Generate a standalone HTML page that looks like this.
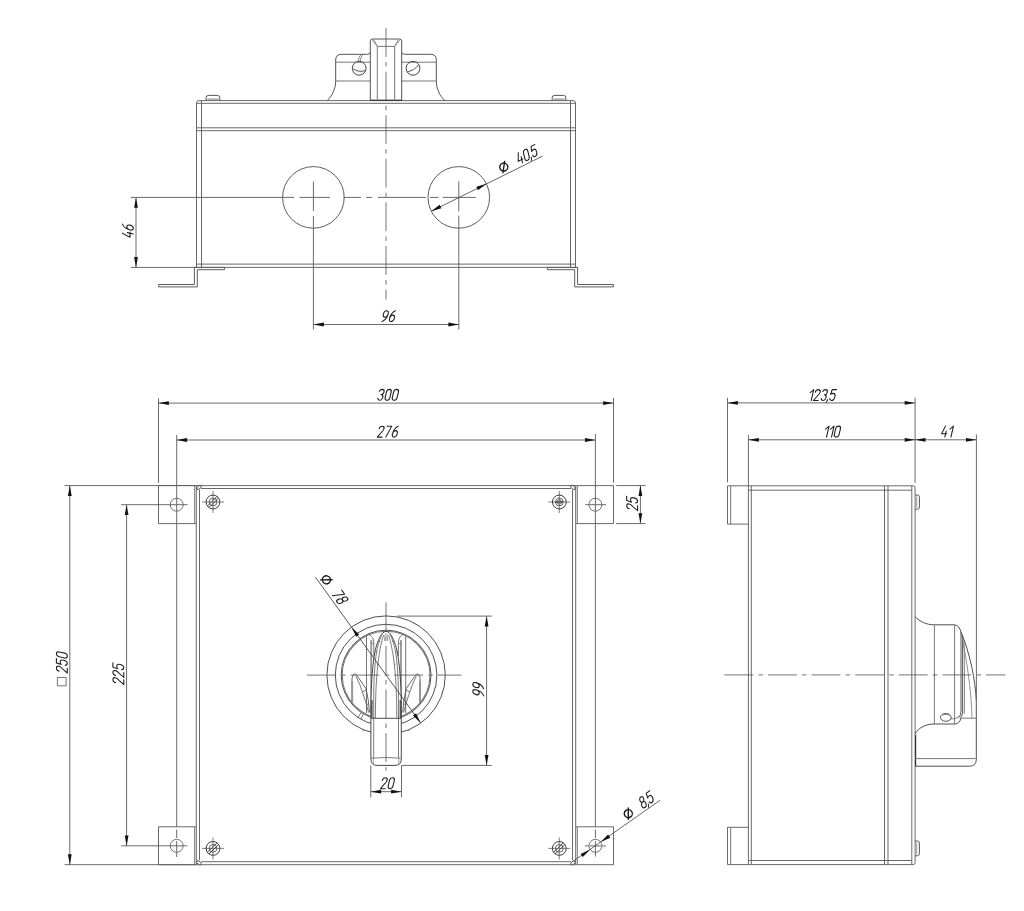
<!DOCTYPE html>
<html><head><meta charset="utf-8"><title>Drawing</title>
<style>html,body{margin:0;padding:0;background:#fff;font-family:"Liberation Sans",sans-serif;}svg{display:block}</style>
</head><body>
<svg width="1024" height="911" viewBox="0 0 1024 911">
<rect width="1024" height="911" fill="#ffffff"/>
<path d="M196.5,127.8 V102.8 Q196.5,100.6 198.9,100.6 H573.1 Q575.5,100.6 575.5,102.8 V127.8" fill="none" stroke="#5c5c5c" stroke-width="0.92" />
<line x1="196.5" y1="103.3" x2="575.5" y2="103.3" stroke="#5c5c5c" stroke-width="0.92"/>
<line x1="196.5" y1="127.8" x2="575.5" y2="127.8" stroke="#5c5c5c" stroke-width="0.92"/>
<line x1="196.5" y1="130.7" x2="575.5" y2="130.7" stroke="#5c5c5c" stroke-width="0.92"/>
<line x1="196.5" y1="127.8" x2="196.5" y2="267.4" stroke="#5c5c5c" stroke-width="0.92"/>
<line x1="575.5" y1="127.8" x2="575.5" y2="267.4" stroke="#5c5c5c" stroke-width="0.92"/>
<line x1="201.5" y1="100.6" x2="201.5" y2="267.4" stroke="#5c5c5c" stroke-width="0.92"/>
<line x1="570.5" y1="100.6" x2="570.5" y2="267.4" stroke="#5c5c5c" stroke-width="0.92"/>
<line x1="196.5" y1="264.1" x2="575.5" y2="264.1" stroke="#5c5c5c" stroke-width="0.92"/>
<line x1="194.5" y1="267.4" x2="577.5" y2="267.4" stroke="#5c5c5c" stroke-width="0.92"/>
<path d="M206.1,100.6 V97.6 Q206.1,95.39999999999999 208.7,95.39999999999999 H217.2 Q219.79999999999998,95.39999999999999 219.79999999999998,97.6 V100.6" fill="none" stroke="#4c4c4c" stroke-width="0.95" />
<line x1="207.29999999999998" y1="99.19999999999999" x2="218.6" y2="99.19999999999999" stroke="#aaa" stroke-width="1.6"/>
<path d="M552.2,100.6 V97.6 Q552.2,95.39999999999999 554.8000000000001,95.39999999999999 H563.3000000000001 Q565.9000000000001,95.39999999999999 565.9000000000001,97.6 V100.6" fill="none" stroke="#4c4c4c" stroke-width="0.95" />
<line x1="553.4000000000001" y1="99.19999999999999" x2="564.7" y2="99.19999999999999" stroke="#aaa" stroke-width="1.6"/>
<path d="M224.6,267.4 H194.4 V284.5 H158.6 V286.9 H197.3 V269.7 H224.6 Z" fill="none" stroke="#5c5c5c" stroke-width="1.0" />
<path d="M547.4,267.4 H577.6 V284.5 H613.4 V286.9 H574.7 V269.7 H547.4 Z" fill="none" stroke="#5c5c5c" stroke-width="1.0" />
<path d="M327.2,100.6 C332,96 335.7,89 335.7,81 V60 Q335.7,54.3 341.4,54.3 H367.5 Q369.6,54.3 370.3,52.3" fill="none" stroke="#4c4c4c" stroke-width="0.95" />
<path d="M444.8,100.6 C440,96 436.3,89 436.3,81 V60 Q436.3,54.3 430.6,54.3 H404.5 Q402.4,54.3 401.7,52.3" fill="none" stroke="#4c4c4c" stroke-width="0.95" />
<line x1="335.7" y1="62.2" x2="370.3" y2="62.2" stroke="#777" stroke-width="1.0"/>
<line x1="401.7" y1="62.2" x2="436.3" y2="62.2" stroke="#777" stroke-width="1.0"/>
<line x1="335.7" y1="81.0" x2="370.3" y2="81.0" stroke="#777" stroke-width="1.0"/>
<line x1="401.7" y1="81.0" x2="436.3" y2="81.0" stroke="#777" stroke-width="1.0"/>
<path d="M370.3,100.6 V41.2 Q370.3,39 372.5,39 H399.5 Q401.7,39 401.7,41.2 V100.6" fill="none" stroke="#4c4c4c" stroke-width="0.95" />
<line x1="370.3" y1="100.3" x2="401.7" y2="100.3" stroke="#333" stroke-width="1.3"/>
<path d="M372.2,39.6 L377.3,46.4 H394.7 L399.8,39.6" fill="none" stroke="#666" stroke-width="0.9" />
<path d="M373.8,39.3 L377.3,46.4 M398.2,39.3 L394.7,46.4" fill="none" stroke="#888" stroke-width="0.8" />
<line x1="377.3" y1="46.4" x2="377.3" y2="100.6" stroke="#777" stroke-width="1.0"/>
<line x1="394.7" y1="46.4" x2="394.7" y2="100.6" stroke="#777" stroke-width="1.0"/>
<circle cx="359.2" cy="68.3" r="6.9" fill="none" stroke="#444" stroke-width="1.0"/>
<circle cx="413.0" cy="68.3" r="6.9" fill="none" stroke="#444" stroke-width="1.0"/>
<path d="M353.3,68.8 Q358,72.6 365.6,70.6" fill="none" stroke="#444" stroke-width="0.9" />
<path d="M407.2,72.2 Q414,70.6 418.8,65.2" fill="none" stroke="#444" stroke-width="0.9" />
<path d="M358.3,61.5 Q358.6,56.8 360.9,54.5 M360.2,61.4 Q360.6,57 362.9,54.5" fill="none" stroke="#666" stroke-width="0.8" />
<circle cx="313.4" cy="197.4" r="30.8" fill="none" stroke="#555" stroke-width="0.95"/>
<circle cx="458.8" cy="197.4" r="30.8" fill="none" stroke="#555" stroke-width="0.95"/>
<line x1="386.0" y1="28" x2="386.0" y2="299.5" stroke="#5a5a5a" stroke-width="0.85" stroke-dasharray="28.8 5.2 4.6 5"/>
<line x1="130.8" y1="197.4" x2="294.0" y2="197.4" stroke="#5e5e5e" stroke-width="0.92"/>
<line x1="299.5" y1="197.4" x2="330" y2="197.4" stroke="#5e5e5e" stroke-width="0.92"/>
<line x1="343.5" y1="197.4" x2="361" y2="197.4" stroke="#5e5e5e" stroke-width="0.92"/>
<line x1="366" y1="197.4" x2="372" y2="197.4" stroke="#5e5e5e" stroke-width="0.92"/>
<line x1="378" y1="197.4" x2="426" y2="197.4" stroke="#5e5e5e" stroke-width="0.92"/>
<line x1="430" y1="197.4" x2="438.5" y2="197.4" stroke="#5e5e5e" stroke-width="0.92"/>
<line x1="442.8" y1="197.4" x2="475.6" y2="197.4" stroke="#5e5e5e" stroke-width="0.92"/>
<line x1="313.4" y1="181.5" x2="313.4" y2="211" stroke="#5e5e5e" stroke-width="0.92"/>
<line x1="313.4" y1="216" x2="313.4" y2="329.6" stroke="#5e5e5e" stroke-width="0.92"/>
<line x1="458.8" y1="181.3" x2="458.8" y2="211.3" stroke="#5e5e5e" stroke-width="0.92"/>
<line x1="458.8" y1="215.6" x2="458.8" y2="329.6" stroke="#5e5e5e" stroke-width="0.92"/>
<line x1="130.8" y1="267.4" x2="196" y2="267.4" stroke="#5e5e5e" stroke-width="0.92"/>
<line x1="136.0" y1="197.4" x2="136.0" y2="267.4" stroke="#5e5e5e" stroke-width="0.92"/>
<path d="M136.00,197.40 L134.10,207.80 L137.90,207.80 Z" fill="#111" stroke="none"/>
<path d="M136.00,267.40 L137.90,257.00 L134.10,257.00 Z" fill="#111" stroke="none"/>
<g transform="translate(133.30,237.90) rotate(-90.00) scale(1.09) skewX(-13)" fill="none" stroke="#1e1e1e" stroke-width="1.0" stroke-linecap="round" stroke-linejoin="round"><path transform="translate(0.00,0)" d="M1.9,-10 L0,-3 H4.6 M3.6,-5.5 V0"/><path transform="translate(6.60,0)" d="M3.7,-10 C1.7,-9 0,-6.2 0,-2.9 C0,-1.1 0.9,0 2.2,0 S4.4,-1.2 4.4,-3 S3.5,-5.9 2.2,-5.9 S0,-4.6 0,-2.9"/></g>
<line x1="313.4" y1="324.5" x2="458.8" y2="324.5" stroke="#5e5e5e" stroke-width="0.92"/>
<path d="M313.40,324.50 L323.80,326.40 L323.80,322.60 Z" fill="#111" stroke="none"/>
<path d="M458.80,324.50 L448.40,322.60 L448.40,326.40 Z" fill="#111" stroke="none"/>
<g transform="translate(381.60,321.60) rotate(0.00) scale(1.09) skewX(-13)" fill="none" stroke="#1e1e1e" stroke-width="1.0" stroke-linecap="round" stroke-linejoin="round"><path transform="translate(0.00,0)" d="M0.4,0 C2.6,-1 4.4,-3.8 4.4,-7.1 C4.4,-8.9 3.5,-10 2.2,-10 S0,-8.8 0,-7 S0.9,-4.1 2.2,-4.1 S4.4,-5.4 4.4,-7.1"/><path transform="translate(6.60,0)" d="M3.7,-10 C1.7,-9 0,-6.2 0,-2.9 C0,-1.1 0.9,0 2.2,0 S4.4,-1.2 4.4,-3 S3.5,-5.9 2.2,-5.9 S0,-4.6 0,-2.9"/></g>
<line x1="431.6" y1="211.1" x2="542.6" y2="156.1" stroke="#4a4a4a" stroke-width="0.85"/>
<path d="M431.20,211.20 L441.36,208.28 L439.67,204.87 Z" fill="#111" stroke="none"/>
<path d="M486.50,183.80 L476.34,186.72 L478.03,190.13 Z" fill="#111" stroke="none"/>
<g transform="translate(502.10,172.75) rotate(-26.40) scale(1.09) skewX(-13)" fill="none" stroke="#151515" stroke-width="1.25" stroke-linecap="round" stroke-linejoin="round"><path transform="translate(0.00,0) skewX(13)" d="M3.7,-7.65 A3.7,3.7 0 1 0 3.7,-0.25 A3.7,3.7 0 1 0 3.7,-7.65 Z M0.7,0.35 L6.7,-8.25"/></g>
<g transform="translate(519.03,164.57) rotate(-26.40) scale(1.09) skewX(-13)" fill="none" stroke="#1e1e1e" stroke-width="1.0" stroke-linecap="round" stroke-linejoin="round"><path transform="translate(0.00,0)" d="M1.9,-10 L0,-3 H4.6 M3.6,-5.5 V0"/><path transform="translate(6.60,0)" d="M2.2,-10 C0.8,-10 0,-8.9 0,-7.4 V-2.6 C0,-1.1 0.8,0 2.2,0 S4.4,-1.1 4.4,-2.6 V-7.4 C4.4,-8.9 3.6,-10 2.2,-10 Z"/><path transform="translate(13.20,0)" d="M-0.4,-0.9 V0 L-1.1,1.7"/><path transform="translate(14.50,0)" d="M4.4,-10 H0.4 L0,-5.6 C0.6,-6.2 1.4,-6.5 2.2,-6.5 C3.5,-6.5 4.4,-5.3 4.4,-3.3 C4.4,-1.2 3.5,0 2.2,0 C1.1,0 0.3,-0.7 0,-1.9"/></g>
<line x1="196.3" y1="485.6" x2="575.7" y2="485.6" stroke="#5c5c5c" stroke-width="0.92"/>
<line x1="196.3" y1="864.7" x2="575.7" y2="864.7" stroke="#5c5c5c" stroke-width="0.92"/>
<line x1="196.3" y1="485.6" x2="196.3" y2="864.7" stroke="#5c5c5c" stroke-width="0.92"/>
<line x1="575.7" y1="485.6" x2="575.7" y2="864.7" stroke="#5c5c5c" stroke-width="0.92"/>
<line x1="201.0" y1="488.5" x2="571.0" y2="488.5" stroke="#5c5c5c" stroke-width="0.92"/>
<line x1="201.0" y1="861.7" x2="571.0" y2="861.7" stroke="#5c5c5c" stroke-width="0.92"/>
<line x1="199.5" y1="490.0" x2="199.5" y2="860.2" stroke="#5c5c5c" stroke-width="0.92"/>
<line x1="572.5" y1="490.0" x2="572.5" y2="860.2" stroke="#5c5c5c" stroke-width="0.92"/>
<ellipse cx="199.0" cy="487.4" rx="2.7" ry="1.5" transform="rotate(-40 199.0 487.4)" fill="#fff" stroke="#444" stroke-width="0.9"/>
<ellipse cx="573.0" cy="487.4" rx="2.7" ry="1.5" transform="rotate(40 573.0 487.4)" fill="#fff" stroke="#444" stroke-width="0.9"/>
<ellipse cx="199.0" cy="862.9" rx="2.7" ry="1.5" transform="rotate(40 199.0 862.9)" fill="#fff" stroke="#444" stroke-width="0.9"/>
<ellipse cx="573.0" cy="862.9" rx="2.7" ry="1.5" transform="rotate(-40 573.0 862.9)" fill="#fff" stroke="#444" stroke-width="0.9"/>
<line x1="158.5" y1="485.6" x2="194.7" y2="485.6" stroke="#5c5c5c" stroke-width="0.92"/>
<line x1="158.5" y1="523.6" x2="194.7" y2="523.6" stroke="#5c5c5c" stroke-width="0.92"/>
<line x1="158.5" y1="485.6" x2="158.5" y2="523.6" stroke="#5c5c5c" stroke-width="0.92"/>
<line x1="194.7" y1="485.6" x2="194.7" y2="523.6" stroke="#777" stroke-width="1.0"/>
<line x1="194.7" y1="485.6" x2="196.3" y2="485.6" stroke="#5c5c5c" stroke-width="0.92"/>
<line x1="194.7" y1="523.6" x2="196.3" y2="523.6" stroke="#5c5c5c" stroke-width="0.92"/>
<line x1="158.5" y1="826.8" x2="194.7" y2="826.8" stroke="#5c5c5c" stroke-width="0.92"/>
<line x1="158.5" y1="864.7" x2="194.7" y2="864.7" stroke="#5c5c5c" stroke-width="0.92"/>
<line x1="158.5" y1="826.8" x2="158.5" y2="864.7" stroke="#5c5c5c" stroke-width="0.92"/>
<line x1="194.7" y1="826.8" x2="194.7" y2="864.7" stroke="#777" stroke-width="1.0"/>
<line x1="194.7" y1="826.8" x2="196.3" y2="826.8" stroke="#5c5c5c" stroke-width="0.92"/>
<line x1="194.7" y1="864.7" x2="196.3" y2="864.7" stroke="#5c5c5c" stroke-width="0.92"/>
<line x1="577.3" y1="485.6" x2="613.5" y2="485.6" stroke="#5c5c5c" stroke-width="0.92"/>
<line x1="577.3" y1="523.6" x2="613.5" y2="523.6" stroke="#5c5c5c" stroke-width="0.92"/>
<line x1="613.5" y1="485.6" x2="613.5" y2="523.6" stroke="#5c5c5c" stroke-width="0.92"/>
<line x1="577.3" y1="485.6" x2="577.3" y2="523.6" stroke="#777" stroke-width="1.0"/>
<line x1="575.7" y1="485.6" x2="577.3" y2="485.6" stroke="#5c5c5c" stroke-width="0.92"/>
<line x1="575.7" y1="523.6" x2="577.3" y2="523.6" stroke="#5c5c5c" stroke-width="0.92"/>
<line x1="577.3" y1="826.8" x2="613.5" y2="826.8" stroke="#5c5c5c" stroke-width="0.92"/>
<line x1="577.3" y1="864.7" x2="613.5" y2="864.7" stroke="#5c5c5c" stroke-width="0.92"/>
<line x1="613.5" y1="826.8" x2="613.5" y2="864.7" stroke="#5c5c5c" stroke-width="0.92"/>
<line x1="577.3" y1="826.8" x2="577.3" y2="864.7" stroke="#777" stroke-width="1.0"/>
<line x1="575.7" y1="826.8" x2="577.3" y2="826.8" stroke="#5c5c5c" stroke-width="0.92"/>
<line x1="575.7" y1="864.7" x2="577.3" y2="864.7" stroke="#5c5c5c" stroke-width="0.92"/>
<circle cx="176.7" cy="504.7" r="6.45" fill="none" stroke="#6a6a6a" stroke-width="0.95"/>
<circle cx="176.7" cy="845.8" r="6.45" fill="none" stroke="#6a6a6a" stroke-width="0.95"/>
<circle cx="595.4" cy="504.7" r="6.45" fill="none" stroke="#6a6a6a" stroke-width="0.95"/>
<circle cx="595.4" cy="845.8" r="6.45" fill="none" stroke="#6a6a6a" stroke-width="0.95"/>
<line x1="166" y1="504.7" x2="187.6" y2="504.7" stroke="#5e5e5e" stroke-width="0.92"/>
<line x1="166" y1="845.8" x2="187.3" y2="845.8" stroke="#5e5e5e" stroke-width="0.92"/>
<line x1="585.2" y1="504.7" x2="606" y2="504.7" stroke="#5e5e5e" stroke-width="0.92"/>
<line x1="584.8" y1="845.8" x2="605.7" y2="845.8" stroke="#a5a5a5" stroke-width="1.8"/>
<line x1="202.0" y1="502.0" x2="224.0" y2="502.0" stroke="#8a8a8a" stroke-width="1.1"/>
<line x1="213.0" y1="491.0" x2="213.0" y2="513.0" stroke="#8a8a8a" stroke-width="1.1"/>
<circle cx="213.0" cy="502.0" r="6.9" fill="none" stroke="#3c3c3c" stroke-width="1.0"/>
<circle cx="213.0" cy="502.0" r="3.9" fill="none" stroke="#555" stroke-width="0.9"/>
<path d="M207.4,506.0 L217.0,496.4 M209.0,507.6 L218.6,498.0" fill="none" stroke="#333" stroke-width="0.9" />
<line x1="548.3" y1="502.0" x2="570.3" y2="502.0" stroke="#8a8a8a" stroke-width="1.1"/>
<line x1="559.3" y1="491.0" x2="559.3" y2="513.0" stroke="#8a8a8a" stroke-width="1.1"/>
<circle cx="559.3" cy="502.0" r="6.9" fill="none" stroke="#3c3c3c" stroke-width="1.0"/>
<circle cx="559.3" cy="502.0" r="3.9" fill="none" stroke="#555" stroke-width="0.9"/>
<circle cx="559.3" cy="502.0" r="2.2" fill="none" stroke="#555" stroke-width="0.9"/>
<line x1="555.3" y1="502.0" x2="563.3" y2="502.0" stroke="#444" stroke-width="1.2"/>
<line x1="202.0" y1="848.4" x2="224.0" y2="848.4" stroke="#8a8a8a" stroke-width="1.1"/>
<line x1="213.0" y1="837.4" x2="213.0" y2="859.4" stroke="#8a8a8a" stroke-width="1.1"/>
<circle cx="213.0" cy="848.4" r="6.9" fill="none" stroke="#3c3c3c" stroke-width="1.0"/>
<circle cx="213.0" cy="848.4" r="3.9" fill="none" stroke="#555" stroke-width="0.9"/>
<path d="M207.4,852.4 L217.0,842.8 M209.0,854.0 L218.6,844.4" fill="none" stroke="#333" stroke-width="0.9" />
<line x1="548.3" y1="848.4" x2="570.3" y2="848.4" stroke="#8a8a8a" stroke-width="1.1"/>
<line x1="559.3" y1="837.4" x2="559.3" y2="859.4" stroke="#8a8a8a" stroke-width="1.1"/>
<circle cx="559.3" cy="848.4" r="6.9" fill="none" stroke="#3c3c3c" stroke-width="1.0"/>
<circle cx="559.3" cy="848.4" r="3.9" fill="none" stroke="#555" stroke-width="0.9"/>
<path d="M553.6999999999999,852.4 L563.3,842.8 M555.3,854.0 L564.9,844.4" fill="none" stroke="#333" stroke-width="0.9" />
<line x1="158.5" y1="398.4" x2="158.5" y2="482.9" stroke="#5e5e5e" stroke-width="0.92"/>
<line x1="613.5" y1="397.9" x2="613.5" y2="482.8" stroke="#5e5e5e" stroke-width="0.92"/>
<line x1="158.5" y1="403.1" x2="613.5" y2="403.1" stroke="#5e5e5e" stroke-width="0.92"/>
<path d="M158.50,403.10 L168.90,405.00 L168.90,401.20 Z" fill="#111" stroke="none"/>
<path d="M613.50,403.10 L603.10,401.20 L603.10,405.00 Z" fill="#111" stroke="none"/>
<g transform="translate(377.30,400.30) rotate(0.00) scale(1.09) skewX(-13)" fill="none" stroke="#1e1e1e" stroke-width="1.0" stroke-linecap="round" stroke-linejoin="round"><path transform="translate(0.00,0)" d="M0,-8.2 C0.3,-9.3 1.1,-10 2.2,-10 C3.5,-10 4.4,-9 4.4,-7.6 C4.4,-6.2 3.5,-5.3 2.2,-5.3 C3.5,-5.3 4.4,-4.3 4.4,-2.7 C4.4,-1.1 3.5,0 2.2,0 C1.1,0 0.3,-0.7 0,-1.9"/><path transform="translate(6.60,0)" d="M2.2,-10 C0.8,-10 0,-8.9 0,-7.4 V-2.6 C0,-1.1 0.8,0 2.2,0 S4.4,-1.1 4.4,-2.6 V-7.4 C4.4,-8.9 3.6,-10 2.2,-10 Z"/><path transform="translate(13.20,0)" d="M2.2,-10 C0.8,-10 0,-8.9 0,-7.4 V-2.6 C0,-1.1 0.8,0 2.2,0 S4.4,-1.1 4.4,-2.6 V-7.4 C4.4,-8.9 3.6,-10 2.2,-10 Z"/></g>
<line x1="176.7" y1="435" x2="176.7" y2="826.8" stroke="#5e5e5e" stroke-width="0.92"/>
<line x1="595.4" y1="434" x2="595.4" y2="826.8" stroke="#5e5e5e" stroke-width="0.92"/>
<line x1="176.7" y1="829.5" x2="176.7" y2="838" stroke="#5e5e5e" stroke-width="0.92"/>
<line x1="176.7" y1="841" x2="176.7" y2="857" stroke="#5e5e5e" stroke-width="0.92"/>
<line x1="595.4" y1="829.5" x2="595.4" y2="838" stroke="#5e5e5e" stroke-width="0.92"/>
<line x1="595.4" y1="841" x2="595.4" y2="856.5" stroke="#5e5e5e" stroke-width="0.92"/>
<line x1="176.7" y1="440" x2="595.4" y2="440" stroke="#5e5e5e" stroke-width="0.92"/>
<path d="M176.70,440.00 L187.10,441.90 L187.10,438.10 Z" fill="#111" stroke="none"/>
<path d="M595.40,440.00 L585.00,438.10 L585.00,441.90 Z" fill="#111" stroke="none"/>
<g transform="translate(377.30,437.10) rotate(0.00) scale(1.09) skewX(-13)" fill="none" stroke="#1e1e1e" stroke-width="1.0" stroke-linecap="round" stroke-linejoin="round"><path transform="translate(0.00,0)" d="M0,-7.6 C0,-9 0.9,-10 2.2,-10 S4.4,-9 4.4,-7.6 C4.4,-6.4 3.8,-5.6 2.8,-4.4 L0,0 H4.4"/><path transform="translate(6.60,0)" d="M0,-10 H4.4 L1.2,0"/><path transform="translate(13.20,0)" d="M3.7,-10 C1.7,-9 0,-6.2 0,-2.9 C0,-1.1 0.9,0 2.2,0 S4.4,-1.2 4.4,-3 S3.5,-5.9 2.2,-5.9 S0,-4.6 0,-2.9"/></g>
<line x1="64.6" y1="485.6" x2="196.3" y2="485.6" stroke="#5e5e5e" stroke-width="0.92"/>
<line x1="64.6" y1="864.7" x2="196.3" y2="864.7" stroke="#5e5e5e" stroke-width="0.92"/>
<line x1="69.8" y1="485.6" x2="69.8" y2="864.7" stroke="#5e5e5e" stroke-width="0.92"/>
<path d="M69.80,485.60 L67.90,496.00 L71.70,496.00 Z" fill="#111" stroke="none"/>
<path d="M69.80,864.70 L71.70,854.30 L67.90,854.30 Z" fill="#111" stroke="none"/>
<g transform="translate(67.30,673.00) rotate(-90.00) scale(1.09) skewX(-13)" fill="none" stroke="#1e1e1e" stroke-width="1.0" stroke-linecap="round" stroke-linejoin="round"><path transform="translate(0.00,0)" d="M0,-7.6 C0,-9 0.9,-10 2.2,-10 S4.4,-9 4.4,-7.6 C4.4,-6.4 3.8,-5.6 2.8,-4.4 L0,0 H4.4"/><path transform="translate(6.60,0)" d="M4.4,-10 H0.4 L0,-5.6 C0.6,-6.2 1.4,-6.5 2.2,-6.5 C3.5,-6.5 4.4,-5.3 4.4,-3.3 C4.4,-1.2 3.5,0 2.2,0 C1.1,0 0.3,-0.7 0,-1.9"/><path transform="translate(13.20,0)" d="M2.2,-10 C0.8,-10 0,-8.9 0,-7.4 V-2.6 C0,-1.1 0.8,0 2.2,0 S4.4,-1.1 4.4,-2.6 V-7.4 C4.4,-8.9 3.6,-10 2.2,-10 Z"/></g>
<rect x="57.4" y="677.5" width="8.7" height="8.3" fill="none" stroke="#777" stroke-width="1.0"/>
<line x1="121.2" y1="504.7" x2="166" y2="504.7" stroke="#5e5e5e" stroke-width="0.92"/>
<line x1="121.2" y1="845.8" x2="166" y2="845.8" stroke="#5e5e5e" stroke-width="0.92"/>
<line x1="126.6" y1="504.7" x2="126.6" y2="845.8" stroke="#5e5e5e" stroke-width="0.92"/>
<path d="M126.60,504.70 L124.70,515.10 L128.50,515.10 Z" fill="#111" stroke="none"/>
<path d="M126.60,845.80 L128.50,835.40 L124.70,835.40 Z" fill="#111" stroke="none"/>
<g transform="translate(123.80,684.50) rotate(-90.00) scale(1.09) skewX(-13)" fill="none" stroke="#1e1e1e" stroke-width="1.0" stroke-linecap="round" stroke-linejoin="round"><path transform="translate(0.00,0)" d="M0,-7.6 C0,-9 0.9,-10 2.2,-10 S4.4,-9 4.4,-7.6 C4.4,-6.4 3.8,-5.6 2.8,-4.4 L0,0 H4.4"/><path transform="translate(6.60,0)" d="M0,-7.6 C0,-9 0.9,-10 2.2,-10 S4.4,-9 4.4,-7.6 C4.4,-6.4 3.8,-5.6 2.8,-4.4 L0,0 H4.4"/><path transform="translate(13.20,0)" d="M4.4,-10 H0.4 L0,-5.6 C0.6,-6.2 1.4,-6.5 2.2,-6.5 C3.5,-6.5 4.4,-5.3 4.4,-3.3 C4.4,-1.2 3.5,0 2.2,0 C1.1,0 0.3,-0.7 0,-1.9"/></g>
<line x1="616.2" y1="485.6" x2="645.6" y2="485.6" stroke="#5e5e5e" stroke-width="0.92"/>
<line x1="616.2" y1="523.6" x2="645.6" y2="523.6" stroke="#5e5e5e" stroke-width="0.92"/>
<line x1="640.4" y1="485.6" x2="640.4" y2="523.6" stroke="#5e5e5e" stroke-width="0.92"/>
<path d="M640.40,485.60 L638.50,496.00 L642.30,496.00 Z" fill="#111" stroke="none"/>
<path d="M640.40,523.60 L642.30,513.20 L638.50,513.20 Z" fill="#111" stroke="none"/>
<g transform="translate(637.60,510.70) rotate(-90.00) scale(1.09) skewX(-13)" fill="none" stroke="#1e1e1e" stroke-width="1.0" stroke-linecap="round" stroke-linejoin="round"><path transform="translate(0.00,0)" d="M0,-7.6 C0,-9 0.9,-10 2.2,-10 S4.4,-9 4.4,-7.6 C4.4,-6.4 3.8,-5.6 2.8,-4.4 L0,0 H4.4"/><path transform="translate(6.60,0)" d="M4.4,-10 H0.4 L0,-5.6 C0.6,-6.2 1.4,-6.5 2.2,-6.5 C3.5,-6.5 4.4,-5.3 4.4,-3.3 C4.4,-1.2 3.5,0 2.2,0 C1.1,0 0.3,-0.7 0,-1.9"/></g>
<clipPath id="hk"><path d="M300,600 H472 V780 H401.3 V718  L401.3,718 C401.3,694 401.0,672 397.0,650.4 C394.8,641.5 392.2,636 389.6,633.2 Q386.1,629.6 382.6,633.2 C380,636 377.4,641.5 375.2,650.4 C371.2,672 370.9,694 370.9,718 V780 H300 Z"/></clipPath>
<g clip-path="url(#hk)">
<circle cx="386.1" cy="675.1" r="59.2" fill="none" stroke="#3c3c3c" stroke-width="0.9"/>
<circle cx="386.1" cy="675.1" r="50.8" fill="none" stroke="#3c3c3c" stroke-width="0.9"/>
<circle cx="386.1" cy="675.1" r="44.9" fill="none" stroke="#505050" stroke-width="1.0"/>
<circle cx="386.1" cy="675.1" r="43.9" fill="none" stroke="#777" stroke-width="1.1"/>
<path d="M366.5,713 V636" fill="none" stroke="#666" stroke-width="0.9" />
<path d="M 405.70 713.00 V 636.00" fill="none" stroke="#666" stroke-width="0.9" />
<path d="M371.2,640 V714" fill="none" stroke="#999" stroke-width="1.9" />
<path d="M 401.00 640.00 V 714.00" fill="none" stroke="#999" stroke-width="1.9" />
<path d="M368.3,634.3 Q373.8,636.2 373.8,643 V656" fill="none" stroke="#666" stroke-width="0.85" />
<path d="M 403.90 634.30 Q 398.40 636.20 398.40 643.00 V 656.00" fill="none" stroke="#666" stroke-width="0.85" />
<path d="M371,643.4 H373.8" fill="none" stroke="#777" stroke-width="0.8" />
<path d="M 401.20 643.40 H 398.40" fill="none" stroke="#777" stroke-width="0.8" />
<path d="M351.9,702 V682 Q351.9,674.2 354.6,674.0 Q356.2,673.9 357.6,676.5 L366.0,688.6 Q368.8,700 369.5,712.5" fill="none" stroke="#4a4a4a" stroke-width="0.85" />
<path d="M 420.30 702.00 V 682.00 Q 420.30 674.20 417.60 674.00 Q 416.00 673.90 414.60 676.50 L 406.20 688.60 Q 403.40 700.00 402.70 712.50" fill="none" stroke="#4a4a4a" stroke-width="0.85" />
<path d="M352.4,681 V702" fill="none" stroke="#999" stroke-width="1.5" />
<path d="M 419.80 681.00 V 702.00" fill="none" stroke="#999" stroke-width="1.5" />
<path d="M355.9,676.2 Q360,684 362.4,692 Q366,702 368.6,712.5" fill="none" stroke="#555" stroke-width="0.8" />
<path d="M 416.30 676.20 Q 412.20 684.00 409.80 692.00 Q 406.20 702.00 403.60 712.50" fill="none" stroke="#555" stroke-width="0.8" />
<path d="M362.4,692 L366.2,689.8 M366.3,705.2 L368.8,703.4" fill="none" stroke="#555" stroke-width="0.8" />
<path d="M 409.80 692.00 L 406.00 689.80 M 405.90 705.20 L 403.40 703.40" fill="none" stroke="#555" stroke-width="0.8" />
<path d="M357.8,717.8 L360.9,712.8 M360.4,719.3 L363.3,714.2" fill="none" stroke="#555" stroke-width="0.8" />
</g>
<path d="M370.9,718 C370.9,694 371.2,672 375.2,650.4 C377.4,641.5 380,636 382.6,633.2 Q386.1,629.6 389.6,633.2 C392.2,636 394.8,641.5 397.0,650.4 C401.0,672 401.3,694 401.3,718 V759 Q401.3,765.4 395,765.4 H377.2 Q370.9,765.4 370.9,759 Z" fill="none" stroke="#3c3c3c" stroke-width="0.95" />
<path d="M373.7,758 V694 C373.9,675 375.2,661 376.7,651.1 C378.2,643.5 380.4,637.5 382.5,633.8" fill="none" stroke="#666" stroke-width="0.85" />
<path d="M 398.50 758.00 V 694.00 C 398.30 675.00 397.00 661.00 395.50 651.10 C 394.00 643.50 391.80 637.50 389.70 633.80" fill="none" stroke="#666" stroke-width="0.85" />
<path d="M375.4,718 C375.5,694 376.2,675 379.0,655.7 C380.6,646 382.4,638.5 383.7,635" fill="none" stroke="#666" stroke-width="0.85" />
<path d="M 396.80 718.00 C 396.70 694.00 396.00 675.00 393.20 655.70 C 391.60 646.00 389.80 638.50 388.50 635.00" fill="none" stroke="#666" stroke-width="0.85" />
<path d="M384.5,641 Q384.6,634 386.1,633.6" fill="none" stroke="#888" stroke-width="0.8" />
<path d="M 387.70 641.00 Q 387.60 634.00 386.10 633.60" fill="none" stroke="#888" stroke-width="0.8" />
<path d="M374.9,651.2 L377.4,652.0 M378.2,641.0 L380.4,641.8 M376.6,664 L378.0,664.4" fill="none" stroke="#666" stroke-width="0.75" />
<path d="M 397.30 651.20 L 394.80 652.00 M 394.00 641.00 L 391.80 641.80 M 395.60 664.00 L 394.20 664.40" fill="none" stroke="#666" stroke-width="0.75" />
<path d="M371.8,700 V718" fill="none" stroke="#555" stroke-width="1.6" />
<path d="M 400.40 700.00 V 718.00" fill="none" stroke="#555" stroke-width="1.6" />
<line x1="370.9" y1="718.3" x2="401.3" y2="718.3" stroke="#444" stroke-width="0.95"/>
<path d="M371.6,758.2 Q386.1,756.8 400.6,758.2" fill="none" stroke="#666" stroke-width="0.85" />
<path d="M373.7,764.7 Q372.8,760.5 373.6,758" fill="none" stroke="#888" stroke-width="0.8" />
<path d="M 398.50 764.70 Q 399.40 760.50 398.60 758.00" fill="none" stroke="#888" stroke-width="0.8" />
<path d="M363.3,729 V731.2 M408.9,729 V731.2" fill="none" stroke="#666" stroke-width="0.8" />
<line x1="386.0" y1="602.3" x2="386.0" y2="770.7" stroke="#5a5a5a" stroke-width="0.85" stroke-dasharray="28.8 5.2 4.6 5"/>
<line x1="307" y1="675.1" x2="461.5" y2="675.1" stroke="#5a5a5a" stroke-width="0.85" stroke-dasharray="28.8 5.2 4.6 5"/>
<line x1="315.4" y1="577.1" x2="420.6" y2="722.9" stroke="#3a3a3a" stroke-width="0.85"/>
<path d="M351.60,627.30 L356.14,636.85 L359.22,634.62 Z" fill="#111" stroke="none"/>
<path d="M420.60,722.90 L416.06,713.35 L412.98,715.58 Z" fill="#111" stroke="none"/>
<g transform="translate(320.52,579.08) rotate(54.20) scale(1.09) skewX(-13)" fill="none" stroke="#151515" stroke-width="1.25" stroke-linecap="round" stroke-linejoin="round"><path transform="translate(0.00,0) skewX(13)" d="M3.7,-7.65 A3.7,3.7 0 1 0 3.7,-0.25 A3.7,3.7 0 1 0 3.7,-7.65 Z M0.7,0.35 L6.7,-8.25"/></g>
<g transform="translate(331.48,594.60) rotate(54.20) scale(1.09) skewX(-13)" fill="none" stroke="#1e1e1e" stroke-width="1.0" stroke-linecap="round" stroke-linejoin="round"><path transform="translate(0.00,0)" d="M0,-10 H4.4 L1.2,0"/><path transform="translate(6.60,0)" d="M2.2,-5.3 C1,-5.3 0.2,-6.3 0.2,-7.6 S1,-10 2.2,-10 S4.2,-8.9 4.2,-7.6 S3.4,-5.3 2.2,-5.3 C0.9,-5.3 0,-4.2 0,-2.7 S0.9,0 2.2,0 S4.4,-1.2 4.4,-2.7 S3.5,-5.3 2.2,-5.3 Z"/></g>
<line x1="397" y1="616.1" x2="491.8" y2="616.1" stroke="#5e5e5e" stroke-width="0.92"/>
<line x1="401.5" y1="765.4" x2="491.8" y2="765.4" stroke="#5e5e5e" stroke-width="0.92"/>
<line x1="486.6" y1="616.1" x2="486.6" y2="765.4" stroke="#5e5e5e" stroke-width="0.92"/>
<path d="M486.60,616.10 L484.70,626.50 L488.50,626.50 Z" fill="#111" stroke="none"/>
<path d="M486.60,765.40 L488.50,755.00 L484.70,755.00 Z" fill="#111" stroke="none"/>
<g transform="translate(483.70,696.40) rotate(-90.00) scale(1.09) skewX(-13)" fill="none" stroke="#1e1e1e" stroke-width="1.0" stroke-linecap="round" stroke-linejoin="round"><path transform="translate(0.00,0)" d="M0.4,0 C2.6,-1 4.4,-3.8 4.4,-7.1 C4.4,-8.9 3.5,-10 2.2,-10 S0,-8.8 0,-7 S0.9,-4.1 2.2,-4.1 S4.4,-5.4 4.4,-7.1"/><path transform="translate(6.60,0)" d="M0.4,0 C2.6,-1 4.4,-3.8 4.4,-7.1 C4.4,-8.9 3.5,-10 2.2,-10 S0,-8.8 0,-7 S0.9,-4.1 2.2,-4.1 S4.4,-5.4 4.4,-7.1"/></g>
<line x1="370.8" y1="765.4" x2="370.8" y2="797.2" stroke="#5e5e5e" stroke-width="0.92"/>
<line x1="401.5" y1="765.4" x2="401.5" y2="797.2" stroke="#5e5e5e" stroke-width="0.92"/>
<line x1="370.8" y1="791.7" x2="401.5" y2="791.7" stroke="#5e5e5e" stroke-width="0.92"/>
<path d="M370.80,791.70 L381.20,793.60 L381.20,789.80 Z" fill="#111" stroke="none"/>
<path d="M401.50,791.70 L391.10,789.80 L391.10,793.60 Z" fill="#111" stroke="none"/>
<g transform="translate(380.40,788.70) rotate(0.00) scale(1.09) skewX(-13)" fill="none" stroke="#1e1e1e" stroke-width="1.0" stroke-linecap="round" stroke-linejoin="round"><path transform="translate(0.00,0)" d="M0,-7.6 C0,-9 0.9,-10 2.2,-10 S4.4,-9 4.4,-7.6 C4.4,-6.4 3.8,-5.6 2.8,-4.4 L0,0 H4.4"/><path transform="translate(6.60,0)" d="M2.2,-10 C0.8,-10 0,-8.9 0,-7.4 V-2.6 C0,-1.1 0.8,0 2.2,0 S4.4,-1.1 4.4,-2.6 V-7.4 C4.4,-8.9 3.6,-10 2.2,-10 Z"/></g>
<line x1="573.3" y1="861.2" x2="660.0" y2="800.3" stroke="#4a4a4a" stroke-width="0.85"/>
<path d="M590.20,849.50 L580.60,853.93 L582.78,857.03 Z" fill="#111" stroke="none"/>
<path d="M600.70,842.10 L610.30,837.67 L608.12,834.57 Z" fill="#111" stroke="none"/>
<g transform="translate(627.45,819.47) rotate(-35.10) scale(1.09) skewX(-13)" fill="none" stroke="#151515" stroke-width="1.25" stroke-linecap="round" stroke-linejoin="round"><path transform="translate(0.00,0) skewX(13)" d="M3.7,-7.65 A3.7,3.7 0 1 0 3.7,-0.25 A3.7,3.7 0 1 0 3.7,-7.65 Z M0.7,0.35 L6.7,-8.25"/></g>
<g transform="translate(643.03,808.77) rotate(-35.10) scale(1.09) skewX(-13)" fill="none" stroke="#1e1e1e" stroke-width="1.0" stroke-linecap="round" stroke-linejoin="round"><path transform="translate(0.00,0)" d="M2.2,-5.3 C1,-5.3 0.2,-6.3 0.2,-7.6 S1,-10 2.2,-10 S4.2,-8.9 4.2,-7.6 S3.4,-5.3 2.2,-5.3 C0.9,-5.3 0,-4.2 0,-2.7 S0.9,0 2.2,0 S4.4,-1.2 4.4,-2.7 S3.5,-5.3 2.2,-5.3 Z"/><path transform="translate(6.60,0)" d="M-0.4,-0.9 V0 L-1.1,1.7"/><path transform="translate(7.90,0)" d="M4.4,-10 H0.4 L0,-5.6 C0.6,-6.2 1.4,-6.5 2.2,-6.5 C3.5,-6.5 4.4,-5.3 4.4,-3.3 C4.4,-1.2 3.5,0 2.2,0 C1.1,0 0.3,-0.7 0,-1.9"/></g>
<path d="M748.4,485.8 H913.1 Q915.1,485.8 915.1,487.8 V862.6 Q915.1,864.6 913.1,864.6 H748.4 Z" fill="none" stroke="#5c5c5c" stroke-width="0.92" />
<line x1="748.4" y1="490.2" x2="911.8" y2="490.2" stroke="#5c5c5c" stroke-width="0.92"/>
<line x1="748.4" y1="860.5" x2="911.8" y2="860.5" stroke="#5c5c5c" stroke-width="0.92"/>
<line x1="751.3" y1="485.8" x2="751.3" y2="864.6" stroke="#5c5c5c" stroke-width="0.92"/>
<line x1="884.5" y1="485.8" x2="884.5" y2="864.6" stroke="#5c5c5c" stroke-width="0.92"/>
<line x1="888.0" y1="485.8" x2="888.0" y2="864.6" stroke="#5c5c5c" stroke-width="0.92"/>
<line x1="911.8" y1="485.8" x2="911.8" y2="864.6" stroke="#5c5c5c" stroke-width="0.92"/>
<path d="M748.4,485.8 H727.5 V524.1 H748.4" fill="none" stroke="#5c5c5c" stroke-width="0.92" />
<line x1="730.7" y1="485.8" x2="730.7" y2="524.1" stroke="#777" stroke-width="1.0"/>
<path d="M748.4,827.3 H727.5 V864.6 H748.4" fill="none" stroke="#5c5c5c" stroke-width="0.92" />
<line x1="730.7" y1="827.3" x2="730.7" y2="864.6" stroke="#777" stroke-width="1.0"/>
<path d="M915.1,495.0 H917.3000000000001 Q919.4,495.0 919.4,497.2 V507.0 Q919.4,509.2 917.3000000000001,509.2 H915.1" fill="none" stroke="#4c4c4c" stroke-width="0.95" />
<line x1="916.5" y1="496.5" x2="916.5" y2="507.7" stroke="#aaa" stroke-width="1.4"/>
<path d="M915.1,841.0 H917.3000000000001 Q919.4,841.0 919.4,843.2 V853.5999999999999 Q919.4,855.8 917.3000000000001,855.8 H915.1" fill="none" stroke="#4c4c4c" stroke-width="0.95" />
<line x1="916.5" y1="842.5" x2="916.5" y2="854.3" stroke="#aaa" stroke-width="1.4"/>
<path d="M915.1,616.8 C920,621.5 926,624.8 934.4,624.8 H954.6 Q959.2,625.4 961.0,632.0" fill="none" stroke="#444" stroke-width="0.95" />
<path d="M961.0,632.0 C969.5,652 975.6,680 976.3,701.3 V759.3 Q976.3,766.2 969.6,766.2 H915.1" fill="none" stroke="#444" stroke-width="0.95" />
<path d="M915.1,734.0 C918.5,728 925,724.0 934.4,724.0 H954.6 Q959.5,724 961.0,718.2" fill="none" stroke="#444" stroke-width="0.95" />
<line x1="915.6" y1="735" x2="915.6" y2="766" stroke="#333" stroke-width="1.2"/>
<line x1="934.4" y1="624.8" x2="934.4" y2="724.0" stroke="#777" stroke-width="1.0"/>
<line x1="954.6" y1="624.8" x2="954.6" y2="724.0" stroke="#777" stroke-width="1.0"/>
<line x1="915.1" y1="758.6" x2="975.5" y2="758.6" stroke="#777" stroke-width="1.0"/>
<line x1="961.0" y1="718.2" x2="976.3" y2="718.2" stroke="#777" stroke-width="1.0"/>
<path d="M961.0,632.0 V710 Q961.0,716 958.5,717.5 M962.6,636 V712 Q962.4,716.5 960,718.5" fill="none" stroke="#444" stroke-width="0.9" />
<path d="M964.0,640 C964.6,670 964.6,690 964.3,714" fill="none" stroke="#666" stroke-width="0.8" />
<path d="M961.0,633 C966,655 971.5,690 972.0,718" fill="none" stroke="#777" stroke-width="0.8" />
<ellipse cx="945.8" cy="717.4" rx="5.4" ry="3.9" fill="none" stroke="#444" stroke-width="0.9"/>
<path d="M942.5,715.0 Q946,713.4 949.4,715.2 M950.8,719 Q956,719.5 959.6,716" fill="none" stroke="#666" stroke-width="0.8" />
<line x1="724.4" y1="674.9" x2="1005.3" y2="674.9" stroke="#5a5a5a" stroke-width="0.85" stroke-dasharray="28.8 5.2 4.6 5"/>
<line x1="727.5" y1="397.8" x2="727.5" y2="482.3" stroke="#5e5e5e" stroke-width="0.92"/>
<line x1="915.1" y1="397.8" x2="915.1" y2="482.8" stroke="#5e5e5e" stroke-width="0.92"/>
<line x1="727.5" y1="402.9" x2="915.1" y2="402.9" stroke="#5e5e5e" stroke-width="0.92"/>
<path d="M727.50,402.90 L737.90,404.80 L737.90,401.00 Z" fill="#111" stroke="none"/>
<path d="M915.10,402.90 L904.70,401.00 L904.70,404.80 Z" fill="#111" stroke="none"/>
<g transform="translate(808.40,400.50) rotate(0.00) scale(1.09) skewX(-13)" fill="none" stroke="#1e1e1e" stroke-width="1.0" stroke-linecap="round" stroke-linejoin="round"><path transform="translate(0.00,0)" d="M0,-7.2 L2.6,-10 V0"/><path transform="translate(4.60,0)" d="M0,-7.6 C0,-9 0.9,-10 2.2,-10 S4.4,-9 4.4,-7.6 C4.4,-6.4 3.8,-5.6 2.8,-4.4 L0,0 H4.4"/><path transform="translate(11.20,0)" d="M0,-8.2 C0.3,-9.3 1.1,-10 2.2,-10 C3.5,-10 4.4,-9 4.4,-7.6 C4.4,-6.2 3.5,-5.3 2.2,-5.3 C3.5,-5.3 4.4,-4.3 4.4,-2.7 C4.4,-1.1 3.5,0 2.2,0 C1.1,0 0.3,-0.7 0,-1.9"/><path transform="translate(17.80,0)" d="M-0.4,-0.9 V0 L-1.1,1.7"/><path transform="translate(19.10,0)" d="M4.4,-10 H0.4 L0,-5.6 C0.6,-6.2 1.4,-6.5 2.2,-6.5 C3.5,-6.5 4.4,-5.3 4.4,-3.3 C4.4,-1.2 3.5,0 2.2,0 C1.1,0 0.3,-0.7 0,-1.9"/></g>
<line x1="748.4" y1="434.9" x2="748.4" y2="485.8" stroke="#5e5e5e" stroke-width="0.92"/>
<line x1="748.4" y1="439.8" x2="915.1" y2="439.8" stroke="#5e5e5e" stroke-width="0.92"/>
<path d="M748.40,439.80 L758.80,441.70 L758.80,437.90 Z" fill="#111" stroke="none"/>
<path d="M915.10,439.80 L904.70,437.90 L904.70,441.70 Z" fill="#111" stroke="none"/>
<g transform="translate(823.70,437.00) rotate(0.00) scale(1.09) skewX(-13)" fill="none" stroke="#1e1e1e" stroke-width="1.0" stroke-linecap="round" stroke-linejoin="round"><path transform="translate(0.00,0)" d="M0,-7.2 L2.6,-10 V0"/><path transform="translate(4.60,0)" d="M0,-7.2 L2.6,-10 V0"/><path transform="translate(9.20,0)" d="M2.2,-10 C0.8,-10 0,-8.9 0,-7.4 V-2.6 C0,-1.1 0.8,0 2.2,0 S4.4,-1.1 4.4,-2.6 V-7.4 C4.4,-8.9 3.6,-10 2.2,-10 Z"/></g>
<line x1="976.4" y1="434.3" x2="976.4" y2="700" stroke="#5e5e5e" stroke-width="0.92"/>
<line x1="915.1" y1="439.8" x2="976.4" y2="439.8" stroke="#5e5e5e" stroke-width="0.92"/>
<path d="M915.10,439.80 L925.50,441.70 L925.50,437.90 Z" fill="#111" stroke="none"/>
<path d="M976.40,439.80 L966.00,437.90 L966.00,441.70 Z" fill="#111" stroke="none"/>
<g transform="translate(940.90,437.00) rotate(0.00) scale(1.09) skewX(-13)" fill="none" stroke="#1e1e1e" stroke-width="1.0" stroke-linecap="round" stroke-linejoin="round"><path transform="translate(0.00,0)" d="M1.9,-10 L0,-3 H4.6 M3.6,-5.5 V0"/><path transform="translate(6.60,0)" d="M0,-7.2 L2.6,-10 V0"/></g>
</svg>
</body></html>
